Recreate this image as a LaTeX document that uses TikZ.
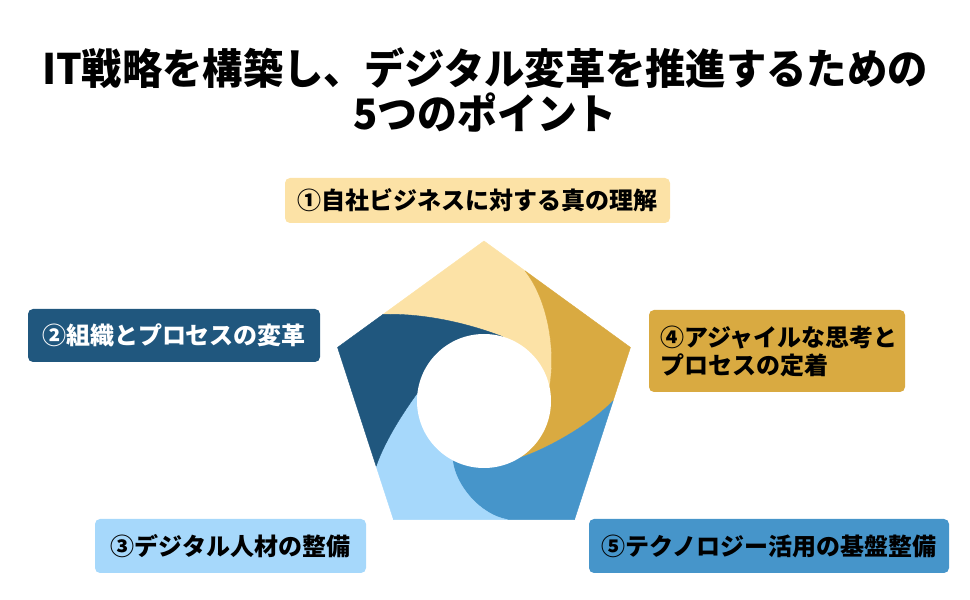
\documentclass[tikz,border=0pt]{standalone}
\usepackage{fontspec,graphicx}
\setmainfont{Noto Sans CJK JP}
\usetikzlibrary{calc}
\definecolor{pyel}{HTML}{FCE2A6}\definecolor{pgold}{HTML}{D9AA41}\definecolor{pdark}{HTML}{20577E}
\definecolor{plight}{HTML}{A6D8FB}\definecolor{pmid}{HTML}{4695CA}
\begin{document}
\begin{tikzpicture}[x=1pt,y=1pt,every node/.style={font=\bfseries},
  card/.style={rounded corners=5pt,inner sep=0pt,align=center,font=\fontsize{24}{28}\selectfont\bfseries},
  seg/.style={line width=0.4pt,line join=round}]
\useasboundingbox (0,0) rectangle (970,600);
\node (title) [align=center,font=\fontsize{42}{45}\selectfont\bfseries] at (485,510) {\scalebox{0.96}[1]{IT戦略を構築し、デジタル変革を推進するための}\\\scalebox{0.95}[1]{5つのポイント}};
\coordinate (c) at (484,205); \coordinate (o) at (484,199);
\foreach \i/\a in {0/90,1/18,2/-54,3/-126,4/162} \coordinate (v\i) at ([shift={(c)}]\a:154);
\coordinate (qa) at ($(v0)!0.28!(v1)$); \coordinate (qe) at ($(v1)!0.31!(v2)$); \coordinate (qd) at ($(v2)!0.37!(v3)$);
\coordinate (qc) at ($(v3)!0.31!(v4)$); \coordinate (qb) at ($(v4)!0.31!(v0)$);
\foreach \n/\a in {pa/12,pb/74,pc/173,pd/242,pe/302} \coordinate (\n) at ([shift={(o)}]\a:67);
\filldraw[seg,fill=pyel,draw=pyel] (qb) -- (v0) -- (qa) .. controls (548,300) and (556,250) .. (pa) -- (o) -- (pb) .. controls (470,276) and (425,287) .. (qb) -- cycle;
\filldraw[seg,fill=pgold,draw=pgold] (qa) -- (v1) -- (qe) .. controls (590,175) and (545,150) .. (pe) -- (o) -- (pa) .. controls (556,250) and (548,300) .. (qa) -- cycle;
\filldraw[seg,fill=pmid,draw=pmid] (qe) -- (v2) -- (qd) .. controls (480,85) and (455,115) .. (pd) -- (o) -- (pe) .. controls (545,150) and (590,175) .. (qe) -- cycle;
\filldraw[seg,fill=plight,draw=plight] (qd) -- (v3) -- (qc) .. controls (385,160) and (405,190) .. (pc) -- (o) -- (pd) .. controls (455,115) and (480,85) .. (qd) -- cycle;
\filldraw[seg,fill=pdark,draw=pdark] (qc) -- (v4) -- (qb) .. controls (425,287) and (470,276) .. (pb) -- (o) -- (pc) .. controls (405,190) and (385,160) .. (qc) -- cycle;
\fill[white] (o) circle (67);
\node (p1) [card,fill=pyel,minimum width=385,minimum height=45] at (477.5,399.5) {①自社ビジネスに対する真の理解};
\node (p2) [card,fill=pdark,text=white,minimum width=292,minimum height=53] at (174,264.5) {②組織とプロセスの変革};
\node (p3) [card,fill=plight,minimum width=271,minimum height=54] at (230.5,54) {③デジタル人材の整備};
\node (p4) [card,fill=pgold,align=left,text width=234pt,inner xsep=11pt,minimum height=82,font=\fontsize{24}{28}\selectfont\bfseries] at (777,249) {④アジャイルな思考と\\プロセスの定着};
\node (p5) [card,fill=pmid,minimum width=360,minimum height=54] at (769,54) {⑤テクノロジー活用の基盤整備};
\end{tikzpicture}
\end{document}
